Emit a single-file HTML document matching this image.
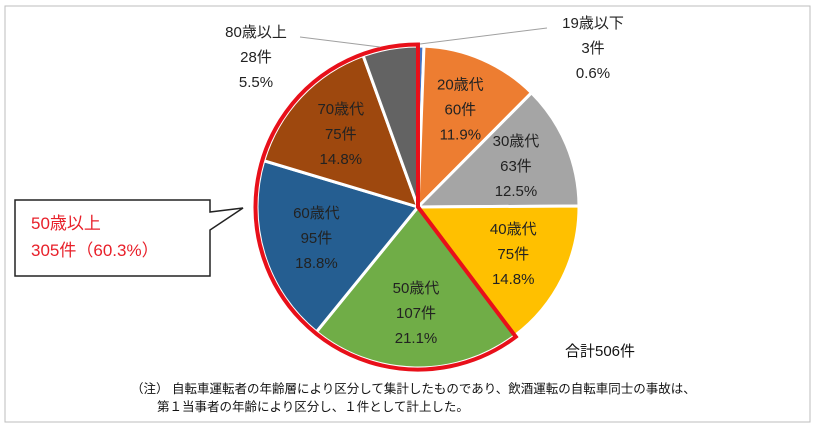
<!DOCTYPE html>
<html><head><meta charset="utf-8"><style>
body{margin:0;background:#fff;}
svg text{font-family:"Liberation Sans","Noto Sans CJK JP",sans-serif;}
</style></head><body>
<svg id="c" width="815" height="431" xmlns="http://www.w3.org/2000/svg">
<rect x="5" y="6" width="805" height="416" fill="#fff" stroke="#bdbdbd" stroke-width="1"/>
<g id="slices"></g>
<g id="labels"></g>
<polyline points="300,37 380,47" fill="none" stroke="#a0a0a0" stroke-width="1"/>
<polyline points="420,44 547,28" fill="none" stroke="#a0a0a0" stroke-width="1"/>
<path d="M15,200 H210 V212 L243,208 L210,230 V276 H15 Z" fill="#fff" stroke="#222" stroke-width="1.5"/>
<text x="31" y="229" font-size="17" fill="#e8202a">50歳以上</text>
<text x="31" y="256" font-size="17" fill="#e8202a">305件（60.3%）</text>
<text x="565" y="356" font-size="15" fill="#111">合計506件</text>
<text x="131" y="393" font-size="12.5" fill="#111">（注） 自転車運転者の年齢層により区分して集計したものであり、飲酒運転の自転車同士の事故は、</text>
<text x="157" y="411" font-size="12.5" fill="#111">第１当事者の年齢により区分し、１件として計上した。</text>
</svg>
<script>
const categories=["19歳以下","20歳代","30歳代","40歳代","50歳代","60歳代","70歳代","80歳以上"];
const counts=[3,60,63,75,107,95,75,28];
const percents=["0.6%","11.9%","12.5%","14.8%","21.1%","18.8%","14.8%","5.5%"];
const colors=["#4472c4","#ed7d31","#a5a5a5","#ffc000","#70ad47","#255e91","#9e480e","#636363"];
const highlightFrom=4;
const cx=418,cy=207,r=161;
const NS="http://www.w3.org/2000/svg";
const total=counts.reduce((a,b)=>a+b,0);
function pt(a,rr){return [cx+rr*Math.sin(a),cy-rr*Math.cos(a)];}
const sg=document.getElementById('slices'),lg=document.getElementById('labels');
let acc=0;const angles=[];
counts.forEach((v,i)=>{
  const a0=acc/total*2*Math.PI;acc+=v;const a1=acc/total*2*Math.PI;angles.push([a0,a1]);
  const p0=pt(a0,r),p1=pt(a1,r);const large=(a1-a0)>Math.PI?1:0;
  const p=document.createElementNS(NS,'path');
  p.setAttribute('d',`M${cx},${cy} L${p0[0]},${p0[1]} A${r},${r} 0 ${large} 1 ${p1[0]},${p1[1]} Z`);
  p.setAttribute('fill',colors[i]);p.setAttribute('stroke','#fff');p.setAttribute('stroke-width','3');
  
  
  sg.appendChild(p);
  const lines=[categories[i],counts[i]+"件",percents[i]];
  let lx,ly,col="#222";
  if(i===0){lx=593;ly=23;}
  else if(i===7){lx=256;ly=32;}
  else{const am=(a0+a1)/2;const q=pt(am,r*0.66);lx=q[0];ly=q[1]-25;}
  lines.forEach((t,k)=>{
    const tx=document.createElementNS(NS,'text');
    tx.setAttribute('x',lx);tx.setAttribute('y',ly+k*25+5);
    tx.setAttribute('text-anchor','middle');tx.setAttribute('font-size','15');tx.setAttribute('fill',col);
    tx.textContent=t;
    
    
    lg.appendChild(tx);
  });
});
const h0=angles[highlightFrom][0],h1=2*Math.PI;
const rr=r+1.5,q0=pt(h0,rr),q1=pt(h1-0.0001,rr);
const hp=document.createElementNS(NS,'path');
hp.setAttribute('d',`M${cx},${cy} L${q0[0]},${q0[1]} A${rr},${rr} 0 ${(h1-h0)>Math.PI?1:0} 1 ${q1[0]},${q1[1]} Z`);
hp.setAttribute('fill','none');hp.setAttribute('stroke','#e8101a');hp.setAttribute('stroke-width','4');hp.setAttribute('stroke-linejoin','miter');


sg.appendChild(hp);
</script>
</body></html>
